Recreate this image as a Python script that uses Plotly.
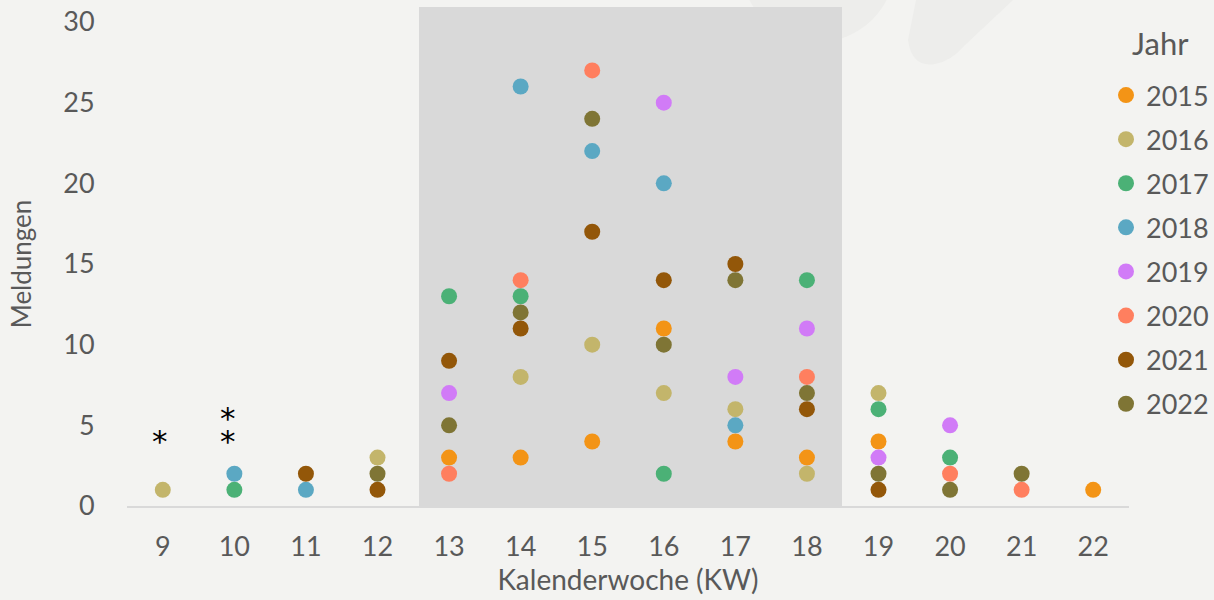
import plotly.graph_objects as go

weeks = [9, 10, 11, 12, 13, 14, 15, 16, 17, 18, 19, 20, 21, 22]
years = ["2015", "2016", "2017", "2018", "2019", "2020", "2021", "2022"]
y2015 = [None, None, None, None, 3, 3, 4, 11, 4, 3, 4, None, None, 1]
y2016 = [1, None, None, 3, None, 8, 10, 7, 6, 2, 7, None, None, None]
y2017 = [None, 1, None, None, 13, 13, None, 2, None, 14, 6, 3, None, None]
y2018 = [None, 2, 1, None, None, 26, 22, 20, 5, None, None, None, None, None]
y2019 = [None, None, None, None, 7, None, None, 25, 8, 11, 3, 5, None, None]
y2020 = [None, None, None, None, 2, 14, 27, None, None, 8, None, 2, 1, None]
y2021 = [None, None, 2, 1, 9, 11, 17, 14, 15, 6, 1, None, None, None]
y2022 = [None, None, None, 2, 5, 12, 24, 10, 14, 7, 2, 1, 2, None]
series = [y2015, y2016, y2017, y2018, y2019, y2020, y2021, y2022]
colors = ["#F39416", "#C3B56B", "#4BB176", "#5BA8C3", "#D17BF7", "#FF7F5F", "#935709", "#7F7535"]
yticks = [0, 5, 10, 15, 20, 25, 30]

FONT = "Lato"
TXT = "#595959"
BG = "#F3F3F1"

# pixel geometry of plot area
L, R, T, B = 127, 1129, 22, 506
W, H = 1214, 600

def px(x):
    return (x - L) / (R - L)

def py(y):
    return (B - y) / (B - T)

fig = go.Figure()
for yr, vals, c in zip(years, series, colors):
    fig.add_trace(go.Scatter(
        x=weeks, y=vals, mode="markers", name=yr, legendgroup=yr,
        marker=dict(size=16, color=c, line=dict(width=0)),
        cliponaxis=False,
    ))

shapes = [
    # faint watermark
    dict(type="circle", xref="paper", yref="paper",
         x0=px(741), x1=px(895), y0=py(42), y1=py(-112),
         fillcolor="#EDEDEB", line=dict(width=0), layer="below"),
    dict(type="path", xref="paper", yref="paper",
         path="M {} {} L {} {} Q {} {} {} {} Q {} {} {} {} L {} {} L {} {} Z".format(
             px(917), py(-5), px(908), py(40), px(912), py(68), px(935), py(64),
             px(950), py(62), px(965), py(45), px(1013), py(0), px(1015), py(-5)),
         fillcolor="#EDEDEB", line=dict(width=0), layer="below"),
    # shaded band
    dict(type="rect", xref="x", yref="paper", x0=12.58, x1=18.49, y0=0, y1=py(7),
         fillcolor="#D9D9D9", line=dict(width=0), layer="below"),
]

star_font = dict(family="DejaVu Sans", size=31, color="#000000")
star = "<span style='font-size:31px'>*</span>"
annotations = [
    dict(x=9, y=4.0, xref="x", yref="y", text="*", showarrow=False,
         font=star_font, yanchor="middle", xshift=-3),
    dict(x=10, y=4.75, xref="x", yref="y", text=star + "<br>" + star, showarrow=False,
         font=dict(family="DejaVu Sans", size=18, color="#000000"),
         yanchor="middle", xshift=-6),
    # legend title
    dict(x=px(1160), y=py(43), xref="paper", yref="paper", text="Jahr", showarrow=False,
         font=dict(family=FONT, size=31, color=TXT), xanchor="center", yanchor="middle"),
]

fig.update_layout(
    width=W, height=H,
    paper_bgcolor=BG, plot_bgcolor="rgba(0,0,0,0)",
    margin=dict(l=L, r=W - R, t=T, b=H - B, autoexpand=False),
    font=dict(family=FONT, size=27, color=TXT),
    shapes=shapes, annotations=annotations,
    showlegend=True,
    legend=dict(
        x=px(1106), y=py(71), xanchor="left", yanchor="top",
        bgcolor="rgba(0,0,0,0)",
        font=dict(family=FONT, size=27, color=TXT),
        tracegroupgap=6, itemsizing="trace", maxheight=560,
    ),
    xaxis=dict(
        range=[8.5, 22.5], tickmode="array", tickvals=weeks,
        ticktext=[str(w) for w in weeks],
        showline=True, linecolor="#D9D9D9", linewidth=2,
        showgrid=False, zeroline=False,
        ticks="outside", ticklen=16, tickcolor="rgba(0,0,0,0)",
        title=dict(text="Kalenderwoche (KW)", standoff=6, font=dict(family=FONT, size=28, color=TXT)),
        tickfont=dict(family=FONT, size=27, color=TXT),
    ),
    yaxis=dict(
        range=[0, 30], tickmode="array", tickvals=yticks,
        showline=False, showgrid=False, zeroline=False,
        ticks="outside", ticklen=26, tickcolor="rgba(0,0,0,0)",
        title=dict(text="Meldungen", standoff=24, font=dict(family=FONT, size=26, color=TXT)),
        tickfont=dict(family=FONT, size=27, color=TXT),
    ),
)

fig.write_html("out.html", config={"displayModeBar": False},
               post_script="document.body.style.margin='0';document.body.style.overflow='hidden';")
